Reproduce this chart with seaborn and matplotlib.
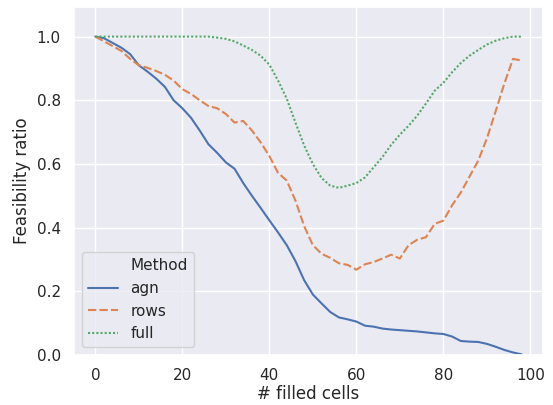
import numpy as np
import pandas as pd
import seaborn as sns
import matplotlib
matplotlib.use("Agg")
import matplotlib.pyplot as plt
from matplotlib.lines import Line2D

# number of filled cells (read every 2 cells off the reference)
filled = list(range(0, 100, 2))

agn = [1.000, 0.995, 0.980, 0.965, 0.945, 0.910, 0.890, 0.868, 0.842, 0.800,
       0.775, 0.745, 0.705, 0.662, 0.635, 0.605, 0.585, 0.540, 0.500, 0.462,
       0.423, 0.385, 0.345, 0.295, 0.235, 0.190, 0.162, 0.135, 0.118, 0.112,
       0.105, 0.092, 0.089, 0.083, 0.080, 0.078, 0.076, 0.074, 0.071, 0.068,
       0.066, 0.058, 0.044, 0.042, 0.041, 0.035, 0.026, 0.016, 0.008, 0.002]

rows = [1.000, 0.985, 0.970, 0.955, 0.930, 0.910, 0.902, 0.892, 0.880, 0.862,
        0.835, 0.820, 0.800, 0.782, 0.775, 0.757, 0.730, 0.735, 0.705, 0.668,
        0.625, 0.572, 0.548, 0.485, 0.405, 0.345, 0.318, 0.305, 0.288, 0.283,
        0.268, 0.285, 0.292, 0.303, 0.315, 0.303, 0.345, 0.362, 0.370, 0.412,
        0.422, 0.470, 0.510, 0.560, 0.610, 0.680, 0.765, 0.852, 0.930, 0.925]

full = [1.000, 1.000, 1.000, 1.000, 1.000, 1.000, 1.000, 1.000, 1.000, 1.000,
        1.000, 1.000, 1.000, 1.000, 0.997, 0.993, 0.985, 0.972, 0.958, 0.940,
        0.912, 0.862, 0.805, 0.730, 0.658, 0.600, 0.556, 0.532, 0.525, 0.532,
        0.540, 0.558, 0.590, 0.622, 0.660, 0.692, 0.720, 0.752, 0.790, 0.830,
        0.855, 0.888, 0.917, 0.940, 0.958, 0.975, 0.987, 0.995, 1.000, 1.000]

methods = ["agn", "rows", "full"]

data = pd.DataFrame({
    "# filled cells": filled * 3,
    "Feasibility ratio": agn + rows + full,
    "Method": np.repeat(methods, len(filled)),
})

sns.set_theme(style="darkgrid")

fig = plt.figure(figsize=(5.53, 4.05), dpi=100)
ax = fig.add_axes([74 / 553, 1 - 355 / 405, (543 - 74) / 553, (355 - 7) / 405])

sns.lineplot(data=data, x="# filled cells", y="Feasibility ratio",
             hue="Method", style="Method", hue_order=methods,
             style_order=methods, ax=ax)

ax.set_ylim(0, 1.093)
ax.xaxis.labelpad = 1.5

# old-style legend: title shown as an entry without a handle
handles, labels = ax.get_legend_handles_labels()
blank = Line2D([], [], linestyle="none")
ax.legend(handles=[blank] + handles, labels=["Method"] + labels,
          loc="lower left")

fig.savefig("out.png", dpi=100)
